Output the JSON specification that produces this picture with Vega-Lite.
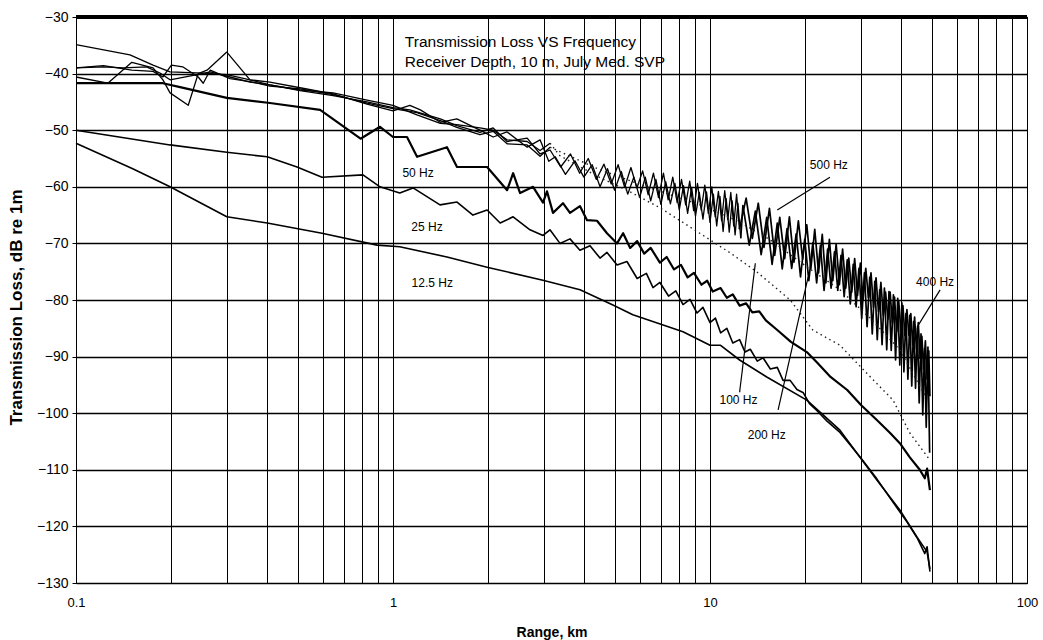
{
  "$schema": "https://vega.github.io/schema/vega-lite/v6.json",
  "width": 951,
  "height": 566,
  "autosize": {"type": "none"},
  "padding": {"left": 76, "top": 17, "right": 16, "bottom": 57},
  "background": "white",
  "datasets": {
    "curves": [
      {"f":"12.5 Hz","r":0.1,"tl":-52.3},{"f":"12.5 Hz","r":0.151,"tl":-56.8},{"f":"12.5 Hz","r":0.198,"tl":-60.0},{"f":"12.5 Hz","r":0.299,"tl":-65.3},{"f":"12.5 Hz","r":0.401,"tl":-66.4},{"f":"12.5 Hz","r":0.597,"tl":-68.2},{"f":"12.5 Hz","r":0.891,"tl":-70.3},{"f":"12.5 Hz","r":1.05,"tl":-70.6},{"f":"12.5 Hz","r":1.48,"tl":-72.4},{"f":"12.5 Hz","r":1.98,"tl":-74.2},{"f":"12.5 Hz","r":2.97,"tl":-76.5},{"f":"12.5 Hz","r":3.89,"tl":-78.2},{"f":"12.5 Hz","r":4.94,"tl":-80.9},{"f":"12.5 Hz","r":5.71,"tl":-82.6},{"f":"12.5 Hz","r":8.22,"tl":-85.6},{"f":"12.5 Hz","r":10.0,"tl":-88.0},{"f":"12.5 Hz","r":10.8,"tl":-88.0},{"f":"12.5 Hz","r":12.4,"tl":-90.6},{"f":"12.5 Hz","r":15.1,"tl":-93.6},{"f":"12.5 Hz","r":20.2,"tl":-97.7},{"f":"12.5 Hz","r":25.7,"tl":-103.0},{"f":"12.5 Hz","r":33.6,"tl":-111.8},{"f":"12.5 Hz","r":39.7,"tl":-117.1},{"f":"12.5 Hz","r":45.0,"tl":-121.9},{"f":"12.5 Hz","r":48.4,"tl":-124.5},{"f":"12.5 Hz","r":49.4,"tl":-127.5},

      {"f":"25 Hz","r":0.1,"tl":-50.0},{"f":"25 Hz","r":0.198,"tl":-52.6},{"f":"25 Hz","r":0.299,"tl":-53.9},{"f":"25 Hz","r":0.401,"tl":-54.7},{"f":"25 Hz","r":0.498,"tl":-56.5},{"f":"25 Hz","r":0.597,"tl":-58.3},{"f":"25 Hz","r":0.804,"tl":-57.9},{"f":"25 Hz","r":0.91,"tl":-60.0},{"f":"25 Hz","r":1.05,"tl":-61.1},{"f":"25 Hz","r":1.157,"tl":-60.2},{"f":"25 Hz","r":1.407,"tl":-63.2},{"f":"25 Hz","r":1.592,"tl":-62.7},{"f":"25 Hz","r":1.787,"tl":-65.0},{"f":"25 Hz","r":1.981,"tl":-64.1},{"f":"25 Hz","r":2.178,"tl":-66.4},{"f":"25 Hz","r":2.393,"tl":-65.3},{"f":"25 Hz","r":2.705,"tl":-67.6},{"f":"25 Hz","r":2.973,"tl":-68.6},{"f":"25 Hz","r":3.127,"tl":-67.6},{"f":"25 Hz","r":3.363,"tl":-70.0},{"f":"25 Hz","r":3.617,"tl":-69.2},{"f":"25 Hz","r":3.888,"tl":-71.2},{"f":"25 Hz","r":4.183,"tl":-70.4},{"f":"25 Hz","r":4.498,"tl":-72.6},{"f":"25 Hz","r":4.732,"tl":-71.6},{"f":"25 Hz","r":5.09,"tl":-73.8},{"f":"25 Hz","r":5.47,"tl":-73.2},{"f":"25 Hz","r":5.89,"tl":-76.2},{"f":"25 Hz","r":6.3,"tl":-75.3},{"f":"25 Hz","r":6.61,"tl":-77.8},{"f":"25 Hz","r":6.95,"tl":-76.9},{"f":"25 Hz","r":7.4,"tl":-79.3},{"f":"25 Hz","r":7.8,"tl":-78.4},{"f":"25 Hz","r":8.22,"tl":-80.8},{"f":"25 Hz","r":8.65,"tl":-79.9},{"f":"25 Hz","r":9.1,"tl":-82.3},{"f":"25 Hz","r":9.5,"tl":-81.3},{"f":"25 Hz","r":10.0,"tl":-84.0},{"f":"25 Hz","r":10.4,"tl":-83.2},{"f":"25 Hz","r":10.8,"tl":-85.8},{"f":"25 Hz","r":11.3,"tl":-85.0},{"f":"25 Hz","r":11.8,"tl":-87.6},{"f":"25 Hz","r":12.4,"tl":-87.0},{"f":"25 Hz","r":12.9,"tl":-89.2},{"f":"25 Hz","r":13.4,"tl":-88.7},{"f":"25 Hz","r":14.1,"tl":-90.8},{"f":"25 Hz","r":14.7,"tl":-90.2},{"f":"25 Hz","r":15.5,"tl":-92.2},{"f":"25 Hz","r":16.3,"tl":-91.9},{"f":"25 Hz","r":17.0,"tl":-94.2},{"f":"25 Hz","r":17.9,"tl":-94.2},{"f":"25 Hz","r":18.8,"tl":-95.8},{"f":"25 Hz","r":19.7,"tl":-96.4},{"f":"25 Hz","r":20.6,"tl":-98.3},{"f":"25 Hz","r":21.8,"tl":-99.6},{"f":"25 Hz","r":23.4,"tl":-101.4},{"f":"25 Hz","r":25.7,"tl":-103.4},{"f":"25 Hz","r":27.7,"tl":-105.6},{"f":"25 Hz","r":30.0,"tl":-108.0},{"f":"25 Hz","r":33.6,"tl":-111.6},{"f":"25 Hz","r":37.0,"tl":-115.0},{"f":"25 Hz","r":41.8,"tl":-119.2},{"f":"25 Hz","r":45.0,"tl":-122.0},{"f":"25 Hz","r":47.6,"tl":-124.8},{"f":"25 Hz","r":48.4,"tl":-123.6},{"f":"25 Hz","r":49.4,"tl":-128.0},

      {"f":"50 Hz","r":0.1,"tl":-41.7},{"f":"50 Hz","r":0.188,"tl":-41.7},{"f":"50 Hz","r":0.213,"tl":-42.4},{"f":"50 Hz","r":0.299,"tl":-44.3},{"f":"50 Hz","r":0.409,"tl":-45.2},{"f":"50 Hz","r":0.589,"tl":-46.4},{"f":"50 Hz","r":0.79,"tl":-51.5},{"f":"50 Hz","r":0.91,"tl":-49.4},{"f":"50 Hz","r":1.0,"tl":-51.2},{"f":"50 Hz","r":1.107,"tl":-51.2},{"f":"50 Hz","r":1.191,"tl":-54.7},{"f":"50 Hz","r":1.48,"tl":-53.0},{"f":"50 Hz","r":1.592,"tl":-56.5},{"f":"50 Hz","r":1.981,"tl":-56.5},{"f":"50 Hz","r":2.291,"tl":-60.6},{"f":"50 Hz","r":2.393,"tl":-57.6},{"f":"50 Hz","r":2.517,"tl":-61.1},{"f":"50 Hz","r":2.766,"tl":-60.0},{"f":"50 Hz","r":2.973,"tl":-62.8},{"f":"50 Hz","r":3.06,"tl":-60.8},{"f":"50 Hz","r":3.197,"tl":-64.6},{"f":"50 Hz","r":3.437,"tl":-62.9},{"f":"50 Hz","r":3.617,"tl":-64.6},{"f":"50 Hz","r":3.888,"tl":-63.4},{"f":"50 Hz","r":4.093,"tl":-65.9},{"f":"50 Hz","r":4.401,"tl":-66.0},{"f":"50 Hz","r":4.732,"tl":-68.2},{"f":"50 Hz","r":5.09,"tl":-70.0},{"f":"50 Hz","r":5.32,"tl":-68.2},{"f":"50 Hz","r":5.6,"tl":-70.8},{"f":"50 Hz","r":5.89,"tl":-69.6},{"f":"50 Hz","r":6.2,"tl":-71.8},{"f":"50 Hz","r":6.5,"tl":-70.8},{"f":"50 Hz","r":6.95,"tl":-73.4},{"f":"50 Hz","r":7.3,"tl":-72.4},{"f":"50 Hz","r":7.7,"tl":-74.6},{"f":"50 Hz","r":8.1,"tl":-73.8},{"f":"50 Hz","r":8.5,"tl":-76.0},{"f":"50 Hz","r":8.9,"tl":-75.2},{"f":"50 Hz","r":9.4,"tl":-77.3},{"f":"50 Hz","r":9.8,"tl":-76.6},{"f":"50 Hz","r":10.2,"tl":-78.5},{"f":"50 Hz","r":10.8,"tl":-77.9},{"f":"50 Hz","r":11.3,"tl":-79.6},{"f":"50 Hz","r":11.8,"tl":-79.0},{"f":"50 Hz","r":12.4,"tl":-81.0},{"f":"50 Hz","r":13.0,"tl":-80.6},{"f":"50 Hz","r":13.6,"tl":-82.2},{"f":"50 Hz","r":14.3,"tl":-82.0},{"f":"50 Hz","r":15.0,"tl":-83.6},{"f":"50 Hz","r":16.3,"tl":-85.3},{"f":"50 Hz","r":18.0,"tl":-87.4},{"f":"50 Hz","r":20.2,"tl":-89.2},{"f":"50 Hz","r":21.8,"tl":-91.1},{"f":"50 Hz","r":24.0,"tl":-93.6},{"f":"50 Hz","r":27.1,"tl":-95.9},{"f":"50 Hz","r":30.0,"tl":-98.6},{"f":"50 Hz","r":33.6,"tl":-101.2},{"f":"50 Hz","r":37.0,"tl":-103.5},{"f":"50 Hz","r":39.7,"tl":-105.3},{"f":"50 Hz","r":42.7,"tl":-107.8},{"f":"50 Hz","r":45.9,"tl":-110.0},{"f":"50 Hz","r":47.6,"tl":-111.5},{"f":"50 Hz","r":48.4,"tl":-109.8},{"f":"50 Hz","r":49.4,"tl":-113.6},

      {"f":"100 Hz","r":0.1,"tl":-39.0},{"f":"100 Hz","r":0.122,"tl":-38.8},{"f":"100 Hz","r":0.141,"tl":-39.0},{"f":"100 Hz","r":0.167,"tl":-38.8},{"f":"100 Hz","r":0.184,"tl":-39.9},{"f":"100 Hz","r":0.198,"tl":-41.1},{"f":"100 Hz","r":0.241,"tl":-40.2},{"f":"100 Hz","r":0.265,"tl":-39.7},{"f":"100 Hz","r":0.306,"tl":-40.6},{"f":"100 Hz","r":0.354,"tl":-41.5},{"f":"100 Hz","r":0.409,"tl":-42.0},{"f":"100 Hz","r":0.509,"tl":-42.9},{"f":"100 Hz","r":0.647,"tl":-43.4},{"f":"100 Hz","r":0.828,"tl":-44.7},{"f":"100 Hz","r":1.0,"tl":-45.6},{"f":"100 Hz","r":1.19,"tl":-47.3},{"f":"100 Hz","r":1.41,"tl":-48.8},{"f":"100 Hz","r":1.59,"tl":-49.0},{"f":"100 Hz","r":1.88,"tl":-49.6},{"f":"100 Hz","r":2.07,"tl":-50.0},{"f":"100 Hz","r":2.29,"tl":-51.7},{"f":"100 Hz","r":2.65,"tl":-52.0},{"f":"100 Hz","r":2.91,"tl":-53.6},{"f":"100 Hz","r":3.13,"tl":-52.3},{"f":"100 Hz","r":3.36,"tl":-54.5},{"f":"100 Hz","r":4.5,"tl":-58.4},{"f":"100 Hz","r":5.47,"tl":-60.6},{"f":"100 Hz","r":6.95,"tl":-63.7},{"f":"100 Hz","r":8.65,"tl":-67.1},{"f":"100 Hz","r":11.6,"tl":-71.7},{"f":"100 Hz","r":14.1,"tl":-75.1},{"f":"100 Hz","r":17.9,"tl":-80.0},{"f":"100 Hz","r":21.1,"tl":-85.3},{"f":"100 Hz","r":25.7,"tl":-88.0},{"f":"100 Hz","r":32.7,"tl":-94.1},{"f":"100 Hz","r":37.8,"tl":-97.7},{"f":"100 Hz","r":42.7,"tl":-103.5},{"f":"100 Hz","r":49.4,"tl":-108.3},

      {"f":"200 Hz","r":0.1,"tl":-39.0},{"f":"200 Hz","r":0.122,"tl":-38.6},{"f":"200 Hz","r":0.15,"tl":-39.4},{"f":"200 Hz","r":0.175,"tl":-39.6},{"f":"200 Hz","r":0.188,"tl":-40.6},{"f":"200 Hz","r":0.2,"tl":-38.5},{"f":"200 Hz","r":0.217,"tl":-38.8},{"f":"200 Hz","r":0.243,"tl":-40.6},{"f":"200 Hz","r":0.252,"tl":-41.7},{"f":"200 Hz","r":0.265,"tl":-39.4},{"f":"200 Hz","r":0.306,"tl":-40.9},{"f":"200 Hz","r":0.354,"tl":-41.4},{"f":"200 Hz","r":0.409,"tl":-42.2},{"f":"200 Hz","r":0.509,"tl":-42.7},{"f":"200 Hz","r":0.647,"tl":-43.7},{"f":"200 Hz","r":0.828,"tl":-45.2},{"f":"200 Hz","r":1.0,"tl":-46.2},{"f":"200 Hz","r":1.19,"tl":-46.9},{"f":"200 Hz","r":1.41,"tl":-48.3},{"f":"200 Hz","r":1.59,"tl":-49.5},{"f":"200 Hz","r":1.88,"tl":-50.8},{"f":"200 Hz","r":2.07,"tl":-50.2},{"f":"200 Hz","r":2.29,"tl":-52.4},{"f":"200 Hz","r":2.65,"tl":-52.6},{"f":"200 Hz","r":2.91,"tl":-54.6},{"f":"200 Hz","r":3.13,"tl":-53.0},{"f":"200 Hz","r":4.5,"tl":-57.0},{"f":"200 Hz","r":6.47,"tl":-60.2},{"f":"200 Hz","r":9.3,"tl":-63.2},{"f":"200 Hz","r":12.4,"tl":-66.2},{"f":"200 Hz","r":15.5,"tl":-69.4},{"f":"200 Hz","r":20.4,"tl":-74.3},{"f":"200 Hz","r":25.7,"tl":-78.2},{"f":"200 Hz","r":32.0,"tl":-83.2},{"f":"200 Hz","r":39.7,"tl":-88.8},{"f":"200 Hz","r":47.6,"tl":-96.8},

      {"f":"400 Hz","r":0.1,"tl":-34.9},{"f":"400 Hz","r":0.148,"tl":-36.7},{"f":"400 Hz","r":0.175,"tl":-38.5},{"f":"400 Hz","r":0.198,"tl":-39.7},{"f":"400 Hz","r":0.252,"tl":-39.9},{"f":"400 Hz","r":0.299,"tl":-40.2},{"f":"400 Hz","r":0.354,"tl":-41.1},{"f":"400 Hz","r":0.409,"tl":-41.5},{"f":"400 Hz","r":0.509,"tl":-42.5},{"f":"400 Hz","r":0.647,"tl":-43.6},{"f":"400 Hz","r":0.828,"tl":-45.4},{"f":"400 Hz","r":1.0,"tl":-46.6},{"f":"400 Hz","r":1.13,"tl":-45.6},{"f":"400 Hz","r":1.22,"tl":-46.4},{"f":"400 Hz","r":1.41,"tl":-48.6},{"f":"400 Hz","r":1.59,"tl":-48.0},{"f":"400 Hz","r":1.88,"tl":-50.0},{"f":"400 Hz","r":2.07,"tl":-51.2},{"f":"400 Hz","r":2.29,"tl":-50.3},{"f":"400 Hz","r":2.65,"tl":-53.0},{"f":"400 Hz","r":2.91,"tl":-51.7},{"f":"400 Hz","r":3.1,"tl":-55.5},
      {"f":"400 Hz","r":3.25,"tl":-54.7},{"f":"400 Hz","r":3.5,"tl":-57.8},{"f":"400 Hz","r":3.75,"tl":-55.4},{"f":"400 Hz","r":4.0,"tl":-58.3},{"f":"400 Hz","r":4.25,"tl":-56.1},{"f":"400 Hz","r":4.5,"tl":-60.0},{"f":"400 Hz","r":4.75,"tl":-56.8},{"f":"400 Hz","r":5.0,"tl":-60.6},{"f":"400 Hz","r":5.25,"tl":-57.3},{"f":"400 Hz","r":5.5,"tl":-61.3},{"f":"400 Hz","r":5.75,"tl":-58.3},{"f":"400 Hz","r":6.0,"tl":-61.9},{"f":"400 Hz","r":6.25,"tl":-58.3},{"f":"400 Hz","r":6.5,"tl":-62.5},{"f":"400 Hz","r":6.75,"tl":-58.7},{"f":"400 Hz","r":7.0,"tl":-63.1},{"f":"400 Hz","r":7.25,"tl":-59.1},{"f":"400 Hz","r":7.5,"tl":-63.0},{"f":"400 Hz","r":7.75,"tl":-59.4},{"f":"400 Hz","r":8.0,"tl":-64.1},{"f":"400 Hz","r":8.25,"tl":-59.8},{"f":"400 Hz","r":8.5,"tl":-64.7},{"f":"400 Hz","r":8.75,"tl":-60.1},{"f":"400 Hz","r":9.0,"tl":-65.2},{"f":"400 Hz","r":9.25,"tl":-61.0},{"f":"400 Hz","r":9.5,"tl":-65.7},{"f":"400 Hz","r":9.75,"tl":-60.9},{"f":"400 Hz","r":10.0,"tl":-66.3},{"f":"400 Hz","r":10.25,"tl":-61.3},{"f":"400 Hz","r":10.5,"tl":-66.9},{"f":"400 Hz","r":10.75,"tl":-61.7},{"f":"400 Hz","r":11.0,"tl":-67.9},{"f":"400 Hz","r":11.25,"tl":-62.1},{"f":"400 Hz","r":11.5,"tl":-68.0},{"f":"400 Hz","r":11.75,"tl":-62.5},{"f":"400 Hz","r":12.0,"tl":-68.5},{"f":"400 Hz","r":12.25,"tl":-62.9},{"f":"400 Hz","r":12.5,"tl":-69.1},
      {"f":"400 Hz","r":12.7,"tl":-63.3},{"f":"400 Hz","r":13.3,"tl":-70.3},{"f":"400 Hz","r":13.9,"tl":-64.3},{"f":"400 Hz","r":14.5,"tl":-72.0},{"f":"400 Hz","r":15.1,"tl":-65.4},{"f":"400 Hz","r":15.7,"tl":-73.7},{"f":"400 Hz","r":16.3,"tl":-66.4},{"f":"400 Hz","r":16.9,"tl":-74.5},{"f":"400 Hz","r":17.5,"tl":-67.4},{"f":"400 Hz","r":18.1,"tl":-74.4},{"f":"400 Hz","r":18.7,"tl":-68.3},{"f":"400 Hz","r":19.3,"tl":-75.9},{"f":"400 Hz","r":19.9,"tl":-69.3},{"f":"400 Hz","r":20.5,"tl":-76.6},{"f":"400 Hz","r":21.1,"tl":-69.9},{"f":"400 Hz","r":21.7,"tl":-77.0},{"f":"400 Hz","r":22.3,"tl":-70.4},{"f":"400 Hz","r":22.9,"tl":-78.3},{"f":"400 Hz","r":23.5,"tl":-71.0},{"f":"400 Hz","r":24.1,"tl":-77.9},{"f":"400 Hz","r":24.7,"tl":-71.5},{"f":"400 Hz","r":25.3,"tl":-78.3},{"f":"400 Hz","r":25.9,"tl":-72.1},{"f":"400 Hz","r":26.5,"tl":-79.4},{"f":"400 Hz","r":27.1,"tl":-72.9},{"f":"400 Hz","r":27.7,"tl":-80.7},{"f":"400 Hz","r":28.3,"tl":-73.7},{"f":"400 Hz","r":28.9,"tl":-81.2},{"f":"400 Hz","r":29.5,"tl":-74.4},{"f":"400 Hz","r":30.1,"tl":-83.3},{"f":"400 Hz","r":30.7,"tl":-75.2},{"f":"400 Hz","r":31.3,"tl":-84.7},{"f":"400 Hz","r":31.9,"tl":-76.0},{"f":"400 Hz","r":32.5,"tl":-86.0},{"f":"400 Hz","r":33.1,"tl":-76.7},{"f":"400 Hz","r":33.7,"tl":-87.0},{"f":"400 Hz","r":34.3,"tl":-78.2},{"f":"400 Hz","r":34.9,"tl":-87.9},{"f":"400 Hz","r":35.5,"tl":-77.9},{"f":"400 Hz","r":36.1,"tl":-88.8},{"f":"400 Hz","r":36.7,"tl":-78.5},{"f":"400 Hz","r":37.3,"tl":-88.9},{"f":"400 Hz","r":37.9,"tl":-79.1},{"f":"400 Hz","r":38.5,"tl":-90.6},{"f":"400 Hz","r":39.1,"tl":-79.7},{"f":"400 Hz","r":39.7,"tl":-91.5},{"f":"400 Hz","r":40.3,"tl":-80.5},{"f":"400 Hz","r":40.9,"tl":-92.7},{"f":"400 Hz","r":41.5,"tl":-82.4},{"f":"400 Hz","r":42.1,"tl":-94.0},{"f":"400 Hz","r":42.7,"tl":-82.7},{"f":"400 Hz","r":43.3,"tl":-95.2},{"f":"400 Hz","r":43.9,"tl":-83.8},{"f":"400 Hz","r":44.5,"tl":-95.6},{"f":"400 Hz","r":45.1,"tl":-84.9},{"f":"400 Hz","r":45.7,"tl":-98.2},{"f":"400 Hz","r":46.3,"tl":-86.0},{"f":"400 Hz","r":46.9,"tl":-100.3},{"f":"400 Hz","r":47.5,"tl":-88.6},{"f":"400 Hz","r":48.1,"tl":-102.5},{"f":"400 Hz","r":48.7,"tl":-88.3},{"f":"400 Hz","r":49.3,"tl":-107.0},

      {"f":"500 Hz","r":0.1,"tl":-40.6},{"f":"500 Hz","r":0.126,"tl":-41.7},{"f":"500 Hz","r":0.15,"tl":-38.0},{"f":"500 Hz","r":0.175,"tl":-39.0},{"f":"500 Hz","r":0.188,"tl":-41.1},{"f":"500 Hz","r":0.198,"tl":-43.4},{"f":"500 Hz","r":0.226,"tl":-45.6},{"f":"500 Hz","r":0.243,"tl":-40.0},{"f":"500 Hz","r":0.259,"tl":-39.4},{"f":"500 Hz","r":0.299,"tl":-36.2},{"f":"500 Hz","r":0.354,"tl":-41.1},{"f":"500 Hz","r":0.409,"tl":-42.0},{"f":"500 Hz","r":0.509,"tl":-43.0},{"f":"500 Hz","r":0.647,"tl":-43.9},{"f":"500 Hz","r":0.828,"tl":-45.0},{"f":"500 Hz","r":1.0,"tl":-46.0},{"f":"500 Hz","r":1.13,"tl":-46.4},{"f":"500 Hz","r":1.41,"tl":-48.0},{"f":"500 Hz","r":1.59,"tl":-49.2},{"f":"500 Hz","r":1.88,"tl":-50.4},{"f":"500 Hz","r":2.07,"tl":-49.6},{"f":"500 Hz","r":2.29,"tl":-52.0},{"f":"500 Hz","r":2.65,"tl":-51.4},{"f":"500 Hz","r":2.91,"tl":-54.2},
      {"f":"500 Hz","r":3.13,"tl":-53.5},{"f":"500 Hz","r":3.38,"tl":-56.5},{"f":"500 Hz","r":3.63,"tl":-54.2},{"f":"500 Hz","r":3.88,"tl":-57.6},{"f":"500 Hz","r":4.13,"tl":-55.0},{"f":"500 Hz","r":4.38,"tl":-58.7},{"f":"500 Hz","r":4.63,"tl":-56.0},{"f":"500 Hz","r":4.88,"tl":-59.5},{"f":"500 Hz","r":5.13,"tl":-56.1},{"f":"500 Hz","r":5.38,"tl":-60.1},{"f":"500 Hz","r":5.63,"tl":-56.6},{"f":"500 Hz","r":5.88,"tl":-60.2},{"f":"500 Hz","r":6.13,"tl":-57.2},{"f":"500 Hz","r":6.38,"tl":-61.4},{"f":"500 Hz","r":6.63,"tl":-57.6},{"f":"500 Hz","r":6.88,"tl":-61.9},{"f":"500 Hz","r":7.13,"tl":-57.6},{"f":"500 Hz","r":7.38,"tl":-62.3},{"f":"500 Hz","r":7.63,"tl":-58.3},{"f":"500 Hz","r":7.88,"tl":-62.8},{"f":"500 Hz","r":8.13,"tl":-58.7},{"f":"500 Hz","r":8.38,"tl":-63.2},{"f":"500 Hz","r":8.63,"tl":-59.0},{"f":"500 Hz","r":8.88,"tl":-64.2},{"f":"500 Hz","r":9.13,"tl":-59.4},{"f":"500 Hz","r":9.38,"tl":-64.1},{"f":"500 Hz","r":9.63,"tl":-59.7},{"f":"500 Hz","r":9.88,"tl":-64.7},{"f":"500 Hz","r":10.13,"tl":-60.0},{"f":"500 Hz","r":10.38,"tl":-65.3},{"f":"500 Hz","r":10.63,"tl":-60.8},{"f":"500 Hz","r":10.88,"tl":-66.0},{"f":"500 Hz","r":11.13,"tl":-60.7},{"f":"500 Hz","r":11.38,"tl":-65.8},{"f":"500 Hz","r":11.63,"tl":-61.0},{"f":"500 Hz","r":11.88,"tl":-66.9},{"f":"500 Hz","r":12.13,"tl":-61.3},{"f":"500 Hz","r":12.38,"tl":-67.5},
      {"f":"500 Hz","r":13.0,"tl":-62.0},{"f":"500 Hz","r":13.6,"tl":-69.1},{"f":"500 Hz","r":14.2,"tl":-62.9},{"f":"500 Hz","r":14.8,"tl":-70.7},{"f":"500 Hz","r":15.4,"tl":-63.8},{"f":"500 Hz","r":16.0,"tl":-72.1},{"f":"500 Hz","r":16.6,"tl":-65.4},{"f":"500 Hz","r":17.2,"tl":-72.7},{"f":"500 Hz","r":17.8,"tl":-65.3},{"f":"500 Hz","r":18.4,"tl":-73.3},{"f":"500 Hz","r":19.0,"tl":-66.0},{"f":"500 Hz","r":19.6,"tl":-72.8},{"f":"500 Hz","r":20.2,"tl":-66.7},{"f":"500 Hz","r":20.8,"tl":-74.5},{"f":"500 Hz","r":21.4,"tl":-67.5},{"f":"500 Hz","r":22.0,"tl":-75.2},{"f":"500 Hz","r":22.6,"tl":-68.4},{"f":"500 Hz","r":23.2,"tl":-77.0},{"f":"500 Hz","r":23.8,"tl":-69.3},{"f":"500 Hz","r":24.4,"tl":-76.6},{"f":"500 Hz","r":25.0,"tl":-70.1},{"f":"500 Hz","r":25.6,"tl":-77.3},{"f":"500 Hz","r":26.2,"tl":-71.0},{"f":"500 Hz","r":26.8,"tl":-77.9},{"f":"500 Hz","r":27.4,"tl":-72.6},{"f":"500 Hz","r":28.0,"tl":-78.6},{"f":"500 Hz","r":28.6,"tl":-72.7},{"f":"500 Hz","r":29.2,"tl":-79.2},{"f":"500 Hz","r":29.8,"tl":-73.5},{"f":"500 Hz","r":30.4,"tl":-79.9},{"f":"500 Hz","r":31.0,"tl":-74.4},{"f":"500 Hz","r":31.6,"tl":-79.6},{"f":"500 Hz","r":32.2,"tl":-75.2},{"f":"500 Hz","r":32.8,"tl":-81.3},{"f":"500 Hz","r":33.4,"tl":-76.1},{"f":"500 Hz","r":34.0,"tl":-82.0},{"f":"500 Hz","r":34.6,"tl":-76.9},{"f":"500 Hz","r":35.2,"tl":-82.7},{"f":"500 Hz","r":35.8,"tl":-78.6},{"f":"500 Hz","r":36.4,"tl":-83.4},{"f":"500 Hz","r":37.0,"tl":-78.6},{"f":"500 Hz","r":37.6,"tl":-84.1},{"f":"500 Hz","r":38.2,"tl":-79.5},{"f":"500 Hz","r":38.8,"tl":-85.6},{"f":"500 Hz","r":39.4,"tl":-80.3},{"f":"500 Hz","r":40.0,"tl":-85.5},{"f":"500 Hz","r":40.6,"tl":-81.0},{"f":"500 Hz","r":41.2,"tl":-86.3},{"f":"500 Hz","r":41.8,"tl":-81.7},{"f":"500 Hz","r":42.4,"tl":-86.2},{"f":"500 Hz","r":43.0,"tl":-82.4},{"f":"500 Hz","r":43.6,"tl":-87.9},{"f":"500 Hz","r":44.2,"tl":-83.0},{"f":"500 Hz","r":44.8,"tl":-88.7},{"f":"500 Hz","r":45.4,"tl":-84.0},{"f":"500 Hz","r":46.0,"tl":-90.3},{"f":"500 Hz","r":46.6,"tl":-86.4},{"f":"500 Hz","r":47.2,"tl":-92.2},{"f":"500 Hz","r":47.8,"tl":-87.2},{"f":"500 Hz","r":48.4,"tl":-94.0},{"f":"500 Hz","r":49.0,"tl":-89.0},{"f":"500 Hz","r":49.4,"tl":-97.0}
    ],
    "labels": [
      {"t":"50 Hz","r":1.2,"tl":-57.6},{"t":"25 Hz","r":1.28,"tl":-67.1},{"t":"12.5 Hz","r":1.33,"tl":-77.0},{"t":"500 Hz","r":23.7,"tl":-56.1},{"t":"400  Hz","r":51.3,"tl":-76.8},{"t":"100 Hz","r":12.3,"tl":-97.7},{"t":"200 Hz","r":15.1,"tl":-103.9}
    ],
    "titles": [
      {"t":"Transmission Loss VS Frequency","r":1.09,"tl":-34.4},{"t":"Receiver Depth, 10 m, July Med. SVP","r":1.09,"tl":-38.0}
    ],
    "leaders": [
      {"r":23.9,"r2":16.3,"tl":-58.3,"tl2":-64.1},{"r":53.2,"r2":45.0,"tl":-78.2,"tl2":-84.8},{"r":12.4,"r2":13.9,"tl":-96.3,"tl2":-73.5},{"r":16.4,"r2":20.4,"tl":-99.4,"tl2":-75.9}
    ],
    "border": [
      {"r":0.1,"r2":100,"tl":-30,"tl2":-30}
    ]
  },
  "encoding": {
    "x": {
      "field": "r", "type": "quantitative",
      "scale": {"type": "log", "domain": [0.1, 100], "nice": false},
      "axis": {
        "values": [0.1,0.2,0.3,0.4,0.5,0.6,0.7,0.8,0.9,1,2,3,4,5,6,7,8,9,10,20,30,40,50,60,70,80,90,100],
        "format": "~g",
        "labelExpr": "datum.value == 0.1 || datum.value == 1 || datum.value == 10 || datum.value == 100 ? datum.label : ''",
        "labelOverlap": false, "labelFlush": false, "labelBound": false,
        "grid": true, "gridWidth": 1, "ticks": true, "tickSize": 0,
        "labelPadding": 13, "labelFontSize": 13,
        "title": "Range, km", "titleFontSize": 14, "titleFontWeight": "bold",
        "titleY": 49, "titleBaseline": "middle"
      }
    },
    "y": {
      "field": "tl", "type": "quantitative",
      "scale": {"domain": [-130, -30], "nice": false, "zero": false},
      "axis": {
        "values": [-130,-120,-110,-100,-90,-80,-70,-60,-50,-40,-30],
        "grid": true, "gridWidth": 1.5, "tickSize": 4, "labelPadding": 4, "labelFontSize": 14,
        "title": "Transmission Loss, dB re 1m", "titleFontSize": 17, "titleFontWeight": "bold",
        "titleX": -60, "titleY": 290, "titleAngle": 270, "titleAlign": "center", "titleBaseline": "middle"
      }
    }
  },
  "layer": [
    {
      "data": {"name": "border"},
      "mark": {"type": "rule", "color": "black", "strokeWidth": 4},
      "encoding": {"x2": {"field": "r2"}, "y2": {"field": "tl2"}}
    },
    {
      "data": {"name": "curves"},
      "transform": [{"filter": "(datum.f == '400 Hz' || datum.f == '500 Hz') && datum.r <= 12.5"}],
      "mark": {"type": "line", "color": "black", "strokeWidth": 1.3, "strokeJoin": "round"},
      "encoding": {"detail": {"field": "f"}}
    },
    {
      "data": {"name": "curves"},
      "transform": [{"filter": "(datum.f == '400 Hz' || datum.f == '500 Hz') && datum.r >= 12.3"}],
      "mark": {"type": "line", "color": "black", "strokeWidth": 1.7, "strokeJoin": "round"},
      "encoding": {"detail": {"field": "f"}}
    },
    {
      "data": {"name": "curves"},
      "transform": [{"filter": "(datum.f == '100 Hz' || datum.f == '200 Hz') && datum.r <= 3.2"}],
      "mark": {"type": "line", "color": "black", "strokeWidth": 1.3, "strokeJoin": "round"},
      "encoding": {"detail": {"field": "f"}}
    },
    {
      "data": {"name": "curves"},
      "transform": [{"filter": "(datum.f == '100 Hz' || datum.f == '200 Hz') && datum.r >= 3.1"}],
      "mark": {"type": "line", "color": "#222", "strokeWidth": 1.4, "strokeDash": [1.5, 3.5]},
      "encoding": {"detail": {"field": "f"}}
    },
    {
      "data": {"name": "curves"},
      "transform": [{"filter": "datum.f == '12.5 Hz' || datum.f == '25 Hz'"}],
      "mark": {"type": "line", "color": "black", "strokeWidth": 1.6, "strokeJoin": "round"},
      "encoding": {"detail": {"field": "f"}}
    },
    {
      "data": {"name": "curves"},
      "transform": [{"filter": "datum.f == '50 Hz'"}],
      "mark": {"type": "line", "color": "black", "strokeWidth": 2.2, "strokeJoin": "round"},
      "encoding": {"detail": {"field": "f"}}
    },
    {
      "data": {"name": "leaders"},
      "mark": {"type": "rule", "color": "black", "strokeWidth": 1.2},
      "encoding": {"x2": {"field": "r2"}, "y2": {"field": "tl2"}}
    },
    {
      "data": {"name": "labels"},
      "mark": {"type": "text", "fontSize": 12, "color": "black", "align": "center", "baseline": "middle"},
      "encoding": {"text": {"field": "t"}}
    },
    {
      "data": {"name": "titles"},
      "mark": {"type": "text", "fontSize": 15.5, "color": "black", "align": "left", "baseline": "middle"},
      "encoding": {"text": {"field": "t"}}
    }
  ],
  "config": {
    "view": {"stroke": "black", "strokeWidth": 1},
    "font": "Liberation Sans",
    "axis": {
      "labelFont": "Liberation Sans", "titleFont": "Liberation Sans",
      "labelColor": "black", "titleColor": "black",
      "gridColor": "black", "gridOpacity": 1, "domain": false, "tickColor": "black"
    },
    "text": {"font": "Liberation Sans"}
  }
}
